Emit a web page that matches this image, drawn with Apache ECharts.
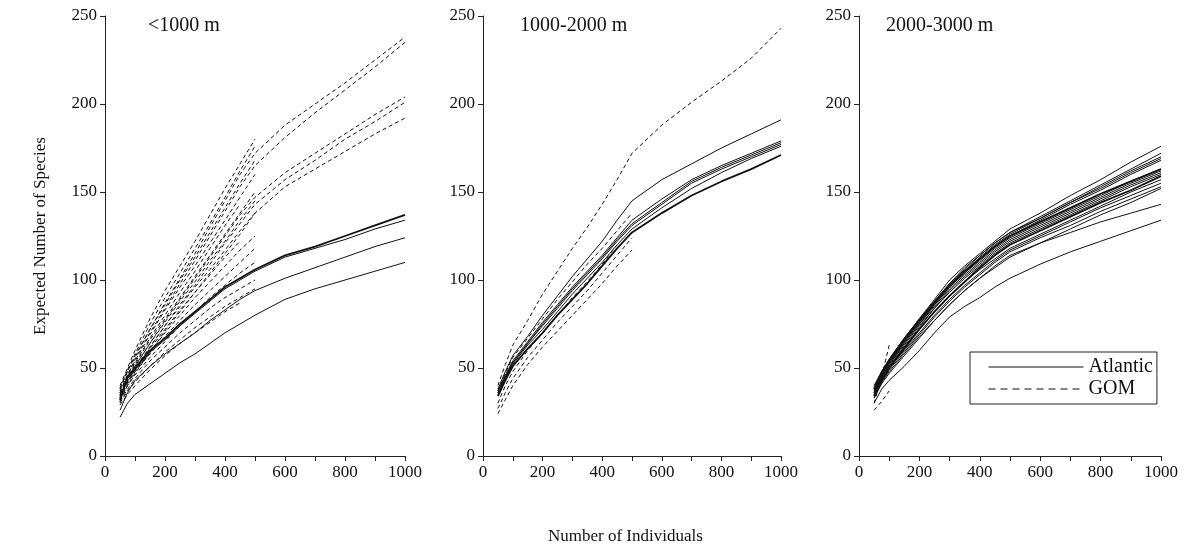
<!DOCTYPE html>
<html>
<head>
<meta charset="utf-8">
<script src="https://cdn.jsdelivr.net/npm/echarts@6/dist/echarts.min.js"></script>
<style>
	html, body { margin: 0; padding: 0; background: #fff; }
	#chart { width: 1190px; height: 551px; }
</style>
</head>
<body>
<div id="chart"></div>
<script>
// number of individuals at which each curve was computed
const xs = [50, 75, 100, 150, 200, 250, 300, 350, 400, 450, 500, 600, 700, 800, 900, 1000];
const xTickLabels = [0, 200, 400, 600, 800, 1000];
const panelTitles = ['<1000 m', '1000-2000 m', '2000-3000 m'];

// <1000 m, Atlantic (solid)
const p1Atlantic = [
	[22, 30, 35, 41, 47, 53, 58, 64, 70, 75, 80, 89, 95, 100, 105, 110],
	[26, 36, 43, 51, 58, 64, 70, 77, 83, 89, 94, 101, 107, 113, 119, 124],
	[32, 45, 50, 60, 67, 75, 82, 89, 96, 101, 106, 114, 119, 125, 131, 137],
	[31, 44, 49, 59, 66, 74, 81, 88, 95, 100, 105, 113, 118, 123, 129, 134]
];
// <1000 m, GOM (dashed), curves that reach 1000
const p1GomLong = [
	[38, 48, 57, 72, 87, 101, 115, 130, 145, 160, 172, 188, 200, 212, 225, 238],
	[36, 46, 55, 70, 84, 98, 111, 125, 139, 153, 165, 181, 195, 208, 221, 235],
	[34, 43, 51, 64, 77, 89, 101, 113, 125, 137, 147, 161, 172, 183, 194, 204],
	[33, 42, 49, 62, 74, 86, 97, 109, 121, 132, 143, 157, 168, 180, 190, 201],
	[31, 40, 47, 59, 71, 82, 93, 104, 115, 126, 138, 153, 163, 173, 183, 192]
];
// <1000 m, GOM (dashed), curves that stop near 500
const p1GomShort = [
	[40, 50, 60, 78, 94, 108, 122, 137, 152, 166, 180],
	[38, 49, 58, 75, 90, 104, 118, 132, 147, 162, 176],
	[39, 48, 56, 72, 86, 100, 113, 127, 141, 155, 168],
	[37, 46, 54, 69, 83, 96, 108, 121, 134, 147, 160],
	[36, 45, 53, 67, 80, 93, 105, 118, 131, 143],
	[35, 44, 52, 66, 78, 90, 102, 114, 126, 138, 150],
	[36, 44, 51, 64, 76, 88, 99, 111, 122, 134, 145],
	[34, 43, 50, 62, 74, 85, 96, 106, 117, 128, 138],
	[35, 43, 49, 61, 72, 83, 93, 103, 113, 122],
	[33, 41, 48, 59, 70, 80, 90, 99, 108, 117, 125],
	[34, 42, 48, 58, 68, 77, 86, 94, 102, 110, 118],
	[32, 40, 46, 56, 65, 74, 82, 90, 97, 104, 110],
	[31, 38, 44, 54, 62, 70, 77, 84, 90, 95, 100],
	[30, 37, 42, 51, 59, 66, 73, 79, 85, 90, 95],
	[29, 35, 40, 49, 57, 64, 70, 76, 82, 87]
];

// 1000-2000 m
const p2Atlantic = [
	[38, 48, 57, 68, 80, 91, 102, 112, 122, 134, 145, 157, 166, 175, 183, 191],
	[37, 46, 54, 65, 76, 86, 96, 105, 114, 124, 134, 146, 157, 165, 172, 179],
	[36, 45, 53, 64, 75, 85, 95, 104, 113, 123, 132, 144, 156, 164, 171, 178],
	[36, 45, 53, 64, 74, 84, 94, 103, 112, 122, 131, 143, 155, 163, 170, 177],
	[35, 44, 52, 63, 72, 82, 92, 101, 110, 120, 129, 141, 152, 161, 169, 176],
	[34, 43, 51, 61, 70, 80, 89, 98, 108, 118, 127, 138, 148, 156, 163, 171]
];
const p2Gom = [
	[40, 52, 63, 77, 92, 105, 118, 130, 143, 157, 172, 188, 201, 213, 226, 243],
	[37, 47, 56, 67, 78, 89, 99, 109, 118, 128, 138],
	[30, 40, 48, 60, 70, 80, 90, 99, 109, 120],
	[27, 36, 44, 56, 66, 76, 85, 94, 104, 114, 124],
	[24, 32, 40, 52, 62, 71, 80, 89, 98, 108, 117]
];

// 2000-3000 m
const p3Atlantic = [
	[40, 48, 55, 67, 78, 89, 100, 108, 115, 122, 129, 138, 148, 157, 167, 176],
	[38, 47, 54, 66, 77, 88, 98, 106, 114, 121, 127, 136, 145, 154, 163, 172],
	[37, 46, 53, 65, 76, 87, 97, 105, 113, 120, 126, 135, 144, 153, 162, 170],
	[39, 48, 55, 67, 78, 88, 98, 107, 114, 121, 127, 135, 144, 152, 161, 169],
	[36, 45, 52, 64, 75, 86, 96, 104, 112, 119, 125, 134, 143, 151, 160, 168],
	[38, 47, 54, 65, 76, 86, 96, 104, 111, 118, 124, 132, 140, 148, 156, 163],
	[38, 47, 54, 66, 77, 87, 97, 105, 112, 119, 125, 133, 141, 149, 156, 163],
	[37, 46, 53, 64, 75, 85, 95, 103, 110, 117, 123, 131, 139, 147, 155, 162],
	[35, 44, 51, 62, 73, 84, 94, 102, 109, 116, 122, 130, 138, 146, 154, 161],
	[36, 45, 52, 63, 74, 84, 93, 101, 108, 115, 121, 129, 137, 145, 153, 160],
	[34, 43, 50, 61, 72, 82, 91, 99, 107, 114, 120, 128, 136, 144, 151, 159],
	[36, 44, 51, 62, 72, 82, 91, 99, 106, 112, 118, 126, 134, 142, 150, 157],
	[35, 43, 50, 60, 70, 80, 89, 97, 104, 111, 117, 125, 133, 141, 148, 155],
	[33, 42, 49, 59, 69, 79, 88, 96, 103, 110, 116, 124, 131, 139, 146, 153],
	[34, 42, 48, 58, 68, 77, 86, 94, 101, 107, 113, 121, 129, 137, 144, 152],
	[33, 41, 47, 57, 67, 77, 86, 94, 101, 108, 114, 121, 127, 133, 138, 143],
	[30, 38, 43, 51, 60, 70, 79, 85, 90, 96, 101, 109, 116, 122, 128, 134]
];
const p3Gom = [
	[30, 45, 63],
	[26, 31, 37]
];

const serif = 'Liberation Serif';
const ink = '#111';
const grids = [
	{ left: 105, top: 16, width: 300, height: 440 },
	{ left: 483, top: 16, width: 298, height: 440 },
	{ left: 859, top: 16, width: 302, height: 440 }
];

let series = [];
function addCurves (list, g, name, dashed, thick) {
	list.forEach((ys, k) => {
		series.push({
			type: 'line',
			name: name,
			xAxisIndex: g,
			yAxisIndex: g,
			data: ys.map((y, i) => [xs[i], y]),
			symbol: 'none',
			silent: true,
			itemStyle: { color: ink },
			lineStyle: {
				color: ink,
				width: thick.includes(k) ? 1.8 : 1,
				type: dashed ? [4, 3] : 'solid'
			}
		});
	});
}
addCurves(p1Atlantic, 0, 'Atlantic', false, [2]);
addCurves(p1GomLong, 0, 'GOM', true, []);
addCurves(p1GomShort, 0, 'GOM', true, []);
addCurves(p2Atlantic, 1, 'Atlantic', false, [5]);
addCurves(p2Gom, 1, 'GOM', true, []);
addCurves(p3Atlantic, 2, 'Atlantic', false, [6, 10]);
addCurves(p3Gom, 2, 'GOM', true, []);

const axisLineStyle = { color: '#222', width: 1 };
const labelStyle = { color: ink, fontFamily: serif, fontSize: 17 };

let opt = {
	backgroundColor: '#fff',
	animation: false,
	textStyle: { fontFamily: serif },
	title: panelTitles.map((t, i) => ({
		text: t,
		left: [148, 520, 886][i],
		top: 16,
		padding: 0,
		textStyle: { fontFamily: serif, fontSize: 20, fontWeight: 'normal', color: ink }
	})),
	legend: {
		data: [
			{ name: 'Atlantic', lineStyle: { type: 'solid' } },
			{ name: 'GOM', lineStyle: { type: [7, 5] } }
		],
		orient: 'vertical',
		left: 970,
		top: 352,
		padding: [5, 4, 5, 18],
		itemGap: 2,
		itemWidth: 95,
		itemHeight: 14,
		selectedMode: false,
		itemStyle: { opacity: 0 },
		lineStyle: { color: ink, width: 1 },
		borderColor: '#222',
		borderWidth: 1,
		textStyle: { fontFamily: serif, fontSize: 20, color: ink }
	},
	grid: grids,
	xAxis: grids.map((g, i) => ({
		type: 'value',
		gridIndex: i,
		min: 0,
		max: 1000,
		interval: 100,
		axisLine: { show: true, lineStyle: axisLineStyle },
		axisTick: { show: true, length: 5, lineStyle: axisLineStyle },
		splitLine: { show: false },
		axisLabel: Object.assign({
			margin: 8,
			formatter: v => xTickLabels.includes(v) ? String(v) : ''
		}, labelStyle)
	})),
	yAxis: grids.map((g, i) => ({
		type: 'value',
		gridIndex: i,
		min: 0,
		max: 250,
		interval: 50,
		name: i === 0 ? 'Expected Number of Species' : '',
		nameLocation: 'middle',
		nameGap: 56,
		nameTextStyle: labelStyle,
		axisLine: { show: true, lineStyle: axisLineStyle },
		axisTick: { show: true, length: 5, lineStyle: axisLineStyle },
		splitLine: { show: false },
		axisLabel: Object.assign({ margin: 8 }, labelStyle)
	})),
	graphic: [{
		type: 'text',
		left: 548,
		top: 528,
		style: { text: 'Number of Individuals', font: '17px "Liberation Serif"', fill: ink }
	}],
	series: series
};

const chart = echarts.init(document.getElementById('chart'));
chart.setOption(opt);
</script>
</body>
</html>
